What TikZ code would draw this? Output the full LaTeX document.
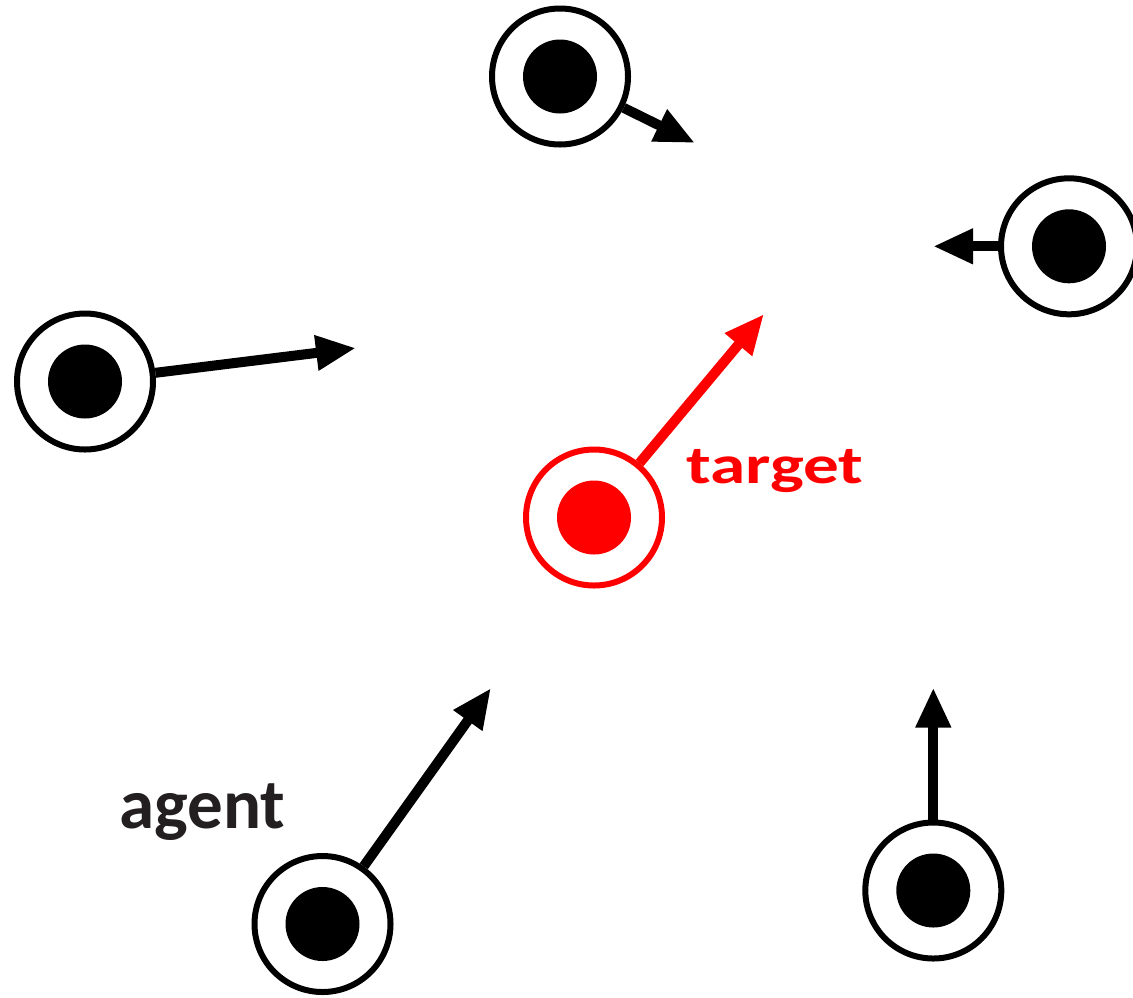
\documentclass[tikz,border=0pt]{standalone}
\usepackage{fontspec}
\setmainfont{Carlito}
\usetikzlibrary{arrows.meta}
\definecolor{agenttext}{HTML}{231F20}
\tikzset{
  ring/.style={circle, draw=#1, line width=3pt, minimum size=68pt, inner sep=0pt},
  core/.style={circle, fill=#1, minimum size=37pt, inner sep=0pt},
  arr/.style={draw=#1, line width=5pt, -{Triangle[length=20pt,width=16.5pt]}},
  lbl/.style={anchor=base west, inner sep=0pt, font=\bfseries}
}
\begin{document}
\begin{tikzpicture}[x=0.5pt,y=-0.5pt]
\useasboundingbox (0,0) rectangle (1133,997);
\clip (0,0) rectangle (1133,997);
% agents
\node[ring=black] (top) at (560,76.5) {};
\node[core=black] (topc) at (560,76.5) {};
\coordinate (toptip) at (695,143);
\draw[arr=black] (top) -- (toptip);

\node[ring=black] (right) at (1069,246.3) {};
\node[core=black] (rightc) at (1069,246.3) {};
\coordinate (righttip) at (933,246.3);
\draw[arr=black] (right) -- (righttip);

\node[ring=black] (left) at (85,381.5) {};
\node[core=black] (leftc) at (85,381.5) {};
\coordinate (lefttip) at (356,348);
\draw[arr=black] (left) -- (lefttip);

\node[ring=black] (bl) at (322.5,924) {};
\node[core=black] (blc) at (322.5,924) {};
\coordinate (bltip) at (491,688);
\draw[arr=black] (bl) -- (bltip);

\node[ring=black] (br) at (933.3,890.5) {};
\node[core=black] (brc) at (933.3,890.5) {};
\coordinate (brtip) at (933.3,687.5);
\draw[arr=black] (br) -- (brtip);

% target
\node[ring=red] (tgt) at (594,517.5) {};
\node[core=red] (tgtc) at (594,517.5) {};
\coordinate (tgttip) at (764,314);
\draw[arr=red] (tgt) -- (tgttip);

% labels
\node[lbl, text=red, font=\bfseries\fontsize{27pt}{32pt}\selectfont, xscale=1.32] (tlabel) at (686,483) {target};
\node[lbl, text=agenttext, font=\bfseries\fontsize{35.5pt}{42pt}\selectfont] (alabel) at (119,828) {agent};
\end{tikzpicture}
\end{document}
